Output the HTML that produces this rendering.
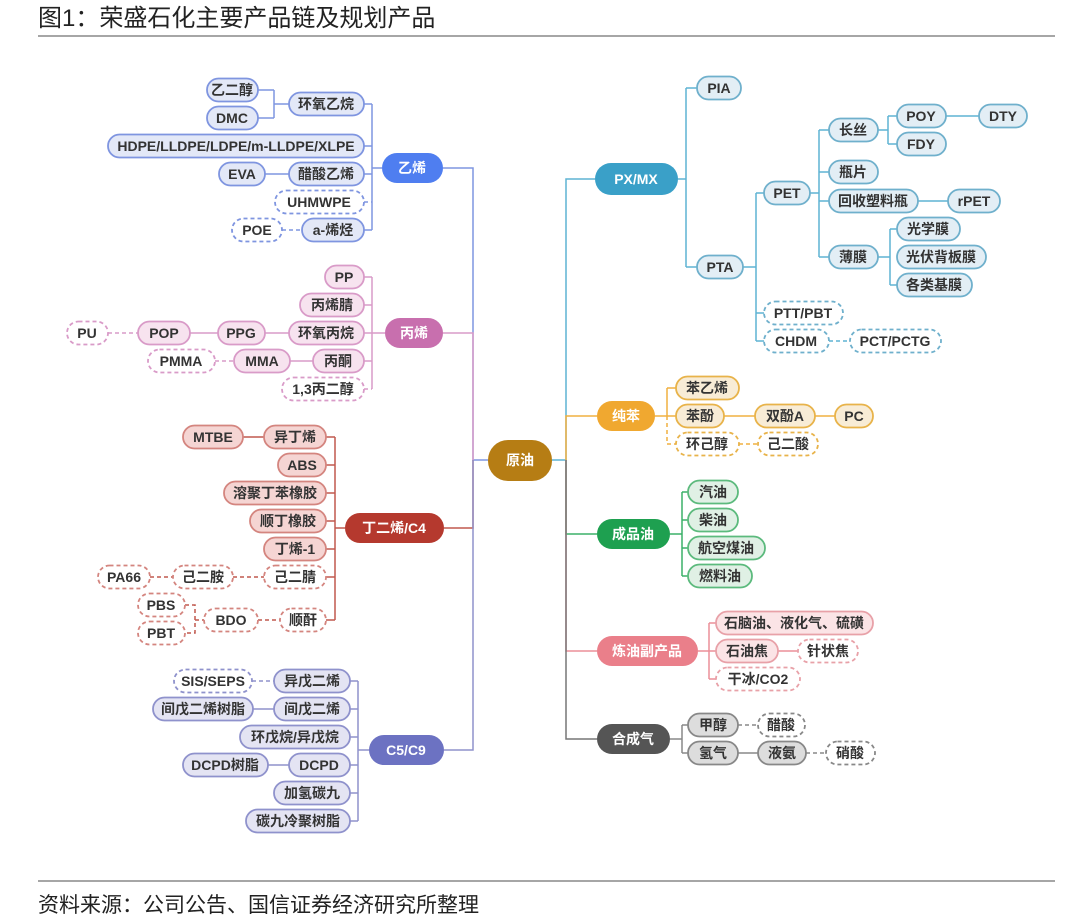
<!DOCTYPE html>
<html><head><meta charset="utf-8"><style>
html,body{margin:0;padding:0;background:#fff;}
svg{display:block;font-family:"Liberation Sans","Noto Sans CJK SC",sans-serif;}
.t{font-size:14px;font-weight:bold;fill:#333;text-anchor:middle;}
.h{font-size:14px;font-weight:bold;fill:#fff;text-anchor:middle;}
path,line{fill:none;stroke-width:1.5;}
</style></head><body>
<svg width="1080" height="920" viewBox="0 0 1080 920" xmlns="http://www.w3.org/2000/svg">
<text x="38" y="26" style="font-size:24px;fill:#222">图1：荣盛石化主要产品链及规划产品</text>
<line x1="38" y1="36" x2="1055" y2="36" stroke="#888" stroke-width="1.5"/>
<line x1="38" y1="881" x2="1055" y2="881" stroke="#888" stroke-width="1.5"/>
<text x="38" y="912" style="font-size:21px;fill:#222">资料来源：公司公告、国信证券经济研究所整理</text>

<path d="M488 460H473V168H443" stroke="#7f95e0"/>
<path d="M473 460V333H443" stroke="#d99bc8"/>
<path d="M473 460V528H444" stroke="#c0594f"/>
<path d="M473 460V750H444" stroke="#8f92cc"/>
<path d="M552 460H566V179H595" stroke="#5fb3d3"/>
<path d="M566 460V416H597" stroke="#f0b040"/>
<path d="M566 460V534H597" stroke="#3bb068"/>
<path d="M566 460V651H597" stroke="#ec8f99"/>
<path d="M566 460V739H597" stroke="#777"/>

<g stroke="#7f95e0">
<path d="M382 168H372M372 104V230M364 104H372M364 146H372M364 174H372M364 230H372"/>
<path d="M258 90H274M258 118H274M274 90V118M274 104H289M265 174H289"/>
</g>
<g stroke="#7f95e0" stroke-dasharray="4,3"><path d="M364 202H372M282 230H302"/></g>
<g stroke="#d99bc8">
<path d="M385 333H372M372 277V389M364 277H372M364 305H372M364 333H372M364 361H372M265 333H289M190 333H218M290 361H313"/>
</g>
<g stroke="#d99bc8" stroke-dasharray="4,3"><path d="M108 333H138M215 361H234M364 389H372"/></g>
<g stroke="#c0594f">
<path d="M345 528H335M335 437V620M326 437H335M326 465H335M326 493H335M326 521H335M326 549H335M326 577H335M326 620H335M243 437H264"/>
</g>
<g stroke="#c0594f" stroke-dasharray="4,3"><path d="M150 577H173M233 577H264M258 620H280M185 605H195V633H185M195 620H204"/></g>
<g stroke="#8f92cc">
<path d="M369 750H358M358 681V821M350 681H358M350 709H358M350 737H358M350 765H358M350 793H358M350 821H358M253 709H274M268 765H289"/>
</g>
<g stroke="#8f92cc" stroke-dasharray="4,3"><path d="M252 681H274"/></g>
<g stroke="#5fb3d3">
<path d="M678 179H686M686 88V267M686 88H697M686 267H697M743 267H756M756 193V341M756 193H764M756 313H764M756 341H764M810 193H819M819 130V257M819 130H829M819 172H829M819 201H829M819 257H829M878 130H888M888 116V144M888 116H897M888 144H897M946 116H979M918 201H948M878 257H890M890 229V285M890 229H897M890 285H897"/>
</g>
<g stroke="#5fb3d3" stroke-dasharray="4,3"><path d="M829 341H850"/></g>
<g stroke="#f0b040">
<path d="M655 416H667M667 388V416M667 388H676M667 416H676M724 416H755M815 416H835"/>
</g>
<g stroke="#f0b040" stroke-dasharray="4,3"><path d="M667 416V444H676M739 444H758"/></g>
<g stroke="#3bb068"><path d="M670 534H682M682 492V576M682 492H688M682 520H688M682 548H688M682 576H688"/></g>
<g stroke="#ec8f99"><path d="M698 651H709M709 623V679M709 623H716M709 651H716M709 679H716M778 651H798"/></g>
<g stroke="#888"><path d="M670 739H682M682 725V753M682 725H688M682 753H688M738 753H758"/></g>
<g stroke="#888" stroke-dasharray="4,3"><path d="M738 725H758M806 753H826"/></g>

<g fill="#e3e8f7" stroke="#7f95e0" stroke-width="1.8">
<rect x="207" y="78.5" width="51" height="23" rx="11.5"/>
<rect x="207" y="106.5" width="51" height="23" rx="11.5"/>
<rect x="289" y="92.5" width="75" height="23" rx="11.5"/>
<rect x="108" y="134.5" width="256" height="23" rx="11.5"/>
<rect x="219" y="162.5" width="46" height="23" rx="11.5"/>
<rect x="289" y="162.5" width="75" height="23" rx="11.5"/>
<rect x="302" y="218.5" width="62" height="23" rx="11.5"/>
</g>
<g fill="#fff" stroke="#7f95e0" stroke-width="1.8" stroke-dasharray="4,3">
<rect x="275" y="190.5" width="89" height="23" rx="11.5"/>
<rect x="232" y="218.5" width="50" height="23" rx="11.5"/>
</g>
<g fill="#f7e3ef" stroke="#d99bc8" stroke-width="1.8">
<rect x="325" y="265.5" width="39" height="23" rx="11.5"/>
<rect x="300" y="293.5" width="64" height="23" rx="11.5"/>
<rect x="289" y="321.5" width="75" height="23" rx="11.5"/>
<rect x="218" y="321.5" width="47" height="23" rx="11.5"/>
<rect x="138" y="321.5" width="52" height="23" rx="11.5"/>
<rect x="313" y="349.5" width="51" height="23" rx="11.5"/>
<rect x="234" y="349.5" width="56" height="23" rx="11.5"/>
</g>
<g fill="#fff" stroke="#d99bc8" stroke-width="1.8" stroke-dasharray="4,3">
<rect x="67" y="321.5" width="41" height="23" rx="11.5"/>
<rect x="148" y="349.5" width="67" height="23" rx="11.5"/>
<rect x="282" y="377.5" width="82" height="23" rx="11.5"/>
</g>
<g fill="#f5d5d3" stroke="#d4857f" stroke-width="1.8">
<rect x="183" y="425.5" width="60" height="23" rx="11.5"/>
<rect x="264" y="425.5" width="62" height="23" rx="11.5"/>
<rect x="278" y="453.5" width="48" height="23" rx="11.5"/>
<rect x="224" y="481.5" width="102" height="23" rx="11.5"/>
<rect x="250" y="509.5" width="76" height="23" rx="11.5"/>
<rect x="264" y="537.5" width="62" height="23" rx="11.5"/>
</g>
<g fill="#fff" stroke="#d4857f" stroke-width="1.8" stroke-dasharray="4,3">
<rect x="264" y="565.5" width="62" height="23" rx="11.5"/>
<rect x="173" y="565.5" width="60" height="23" rx="11.5"/>
<rect x="98" y="565.5" width="52" height="23" rx="11.5"/>
<rect x="280" y="608.5" width="46" height="23" rx="11.5"/>
<rect x="204" y="608.5" width="54" height="23" rx="11.5"/>
<rect x="138" y="593.5" width="47" height="23" rx="11.5"/>
<rect x="138" y="621.5" width="47" height="23" rx="11.5"/>
</g>
<g fill="#e4e4f3" stroke="#8f92cc" stroke-width="1.8">
<rect x="274" y="669.5" width="76" height="23" rx="11.5"/>
<rect x="274" y="697.5" width="76" height="23" rx="11.5"/>
<rect x="153" y="697.5" width="100" height="23" rx="11.5"/>
<rect x="240" y="725.5" width="110" height="23" rx="11.5"/>
<rect x="289" y="753.5" width="61" height="23" rx="11.5"/>
<rect x="183" y="753.5" width="85" height="23" rx="11.5"/>
<rect x="274" y="781.5" width="76" height="23" rx="11.5"/>
<rect x="246" y="809.5" width="104" height="23" rx="11.5"/>
</g>
<g fill="#fff" stroke="#8f92cc" stroke-width="1.8" stroke-dasharray="4,3">
<rect x="174" y="669.5" width="78" height="23" rx="11.5"/>
</g>
<g fill="#e3eef5" stroke="#6fb0cc" stroke-width="1.8">
<rect x="697" y="76.5" width="44" height="23" rx="11.5"/>
<rect x="697" y="255.5" width="46" height="23" rx="11.5"/>
<rect x="764" y="181.5" width="46" height="23" rx="11.5"/>
<rect x="829" y="118.5" width="49" height="23" rx="11.5"/>
<rect x="897" y="104.5" width="49" height="23" rx="11.5"/>
<rect x="979" y="104.5" width="48" height="23" rx="11.5"/>
<rect x="897" y="132.5" width="49" height="23" rx="11.5"/>
<rect x="829" y="160.5" width="49" height="23" rx="11.5"/>
<rect x="829" y="189.5" width="89" height="23" rx="11.5"/>
<rect x="948" y="189.5" width="52" height="23" rx="11.5"/>
<rect x="829" y="245.5" width="49" height="23" rx="11.5"/>
<rect x="897" y="217.5" width="63" height="23" rx="11.5"/>
<rect x="897" y="245.5" width="89" height="23" rx="11.5"/>
<rect x="897" y="273.5" width="75" height="23" rx="11.5"/>
</g>
<g fill="#fff" stroke="#6fb0cc" stroke-width="1.8" stroke-dasharray="4,3">
<rect x="764" y="301.5" width="79" height="23" rx="11.5"/>
<rect x="764" y="329.5" width="65" height="23" rx="11.5"/>
<rect x="850" y="329.5" width="91" height="23" rx="11.5"/>
</g>
<g fill="#f8ecd6" stroke="#e8b34a" stroke-width="1.8">
<rect x="676" y="376.5" width="63" height="23" rx="11.5"/>
<rect x="676" y="404.5" width="48" height="23" rx="11.5"/>
<rect x="755" y="404.5" width="60" height="23" rx="11.5"/>
<rect x="835" y="404.5" width="38" height="23" rx="11.5"/>
</g>
<g fill="#fff" stroke="#e8b34a" stroke-width="1.8" stroke-dasharray="4,3">
<rect x="676" y="432.5" width="63" height="23" rx="11.5"/>
<rect x="758" y="432.5" width="60" height="23" rx="11.5"/>
</g>
<g fill="#e0f0e5" stroke="#5cba7d" stroke-width="1.8">
<rect x="688" y="480.5" width="50" height="23" rx="11.5"/>
<rect x="688" y="508.5" width="50" height="23" rx="11.5"/>
<rect x="688" y="536.5" width="77" height="23" rx="11.5"/>
<rect x="688" y="564.5" width="64" height="23" rx="11.5"/>
</g>
<g fill="#fbe4e6" stroke="#e8a1a8" stroke-width="1.8">
<rect x="716" y="611.5" width="157" height="23" rx="11.5"/>
<rect x="716" y="639.5" width="62" height="23" rx="11.5"/>
</g>
<g fill="#fff" stroke="#e8a1a8" stroke-width="1.8" stroke-dasharray="4,3">
<rect x="798" y="639.5" width="60" height="23" rx="11.5"/>
<rect x="716" y="667.5" width="84" height="23" rx="11.5"/>
</g>
<g fill="#ddd" stroke="#888" stroke-width="1.8">
<rect x="688" y="713.5" width="50" height="23" rx="11.5"/>
<rect x="688" y="741.5" width="50" height="23" rx="11.5"/>
<rect x="758" y="741.5" width="48" height="23" rx="11.5"/>
</g>
<g fill="#fff" stroke="#888" stroke-width="1.8" stroke-dasharray="4,3">
<rect x="758" y="713.5" width="47" height="23" rx="11.5"/>
<rect x="826" y="741.5" width="49" height="23" rx="11.5"/>
</g>

<rect x="382" y="153" width="61" height="30" rx="15" fill="#4f7ef0"/>
<rect x="385" y="318" width="58" height="30" rx="15" fill="#c86fae"/>
<rect x="345" y="513" width="99" height="30" rx="15" fill="#b5392e"/>
<rect x="369" y="735" width="75" height="30" rx="15" fill="#6c72c2"/>
<rect x="488" y="440" width="64" height="41" rx="20" fill="#b67d14"/>
<rect x="595" y="163" width="83" height="32" rx="16" fill="#3aa0c8"/>
<rect x="597" y="401" width="58" height="30" rx="15" fill="#f0a830"/>
<rect x="597" y="519" width="73" height="30" rx="15" fill="#1ea050"/>
<rect x="597" y="636" width="101" height="30" rx="15" fill="#ea7f8a"/>
<rect x="597" y="724" width="73" height="30" rx="15" fill="#555"/>
<text class="h" x="412" y="173">乙烯</text>
<text class="h" x="414" y="338">丙烯</text>
<text class="h" x="394" y="533">丁二烯/C4</text>
<text class="h" x="406" y="755">C5/C9</text>
<text class="h" x="520" y="465">原油</text>
<text class="h" x="636" y="184">PX/MX</text>
<text class="h" x="626" y="421">纯苯</text>
<text class="h" x="633" y="539">成品油</text>
<text class="h" x="647" y="656">炼油副产品</text>
<text class="h" x="633" y="744">合成气</text>

<g>
<text class="t" x="232" y="95">乙二醇</text>
<text class="t" x="232" y="123">DMC</text>
<text class="t" x="326" y="109">环氧乙烷</text>
<text class="t" x="236" y="151">HDPE/LLDPE/LDPE/m-LLDPE/XLPE</text>
<text class="t" x="242" y="179">EVA</text>
<text class="t" x="326" y="179">醋酸乙烯</text>
<text class="t" x="319" y="207">UHMWPE</text>
<text class="t" x="257" y="235">POE</text>
<text class="t" x="333" y="235">a-烯烃</text>
<text class="t" x="344" y="282">PP</text>
<text class="t" x="332" y="310">丙烯腈</text>
<text class="t" x="326" y="338">环氧丙烷</text>
<text class="t" x="241" y="338">PPG</text>
<text class="t" x="164" y="338">POP</text>
<text class="t" x="87" y="338">PU</text>
<text class="t" x="338" y="366">丙酮</text>
<text class="t" x="262" y="366">MMA</text>
<text class="t" x="181" y="366">PMMA</text>
<text class="t" x="323" y="394">1,3丙二醇</text>
<text class="t" x="213" y="442">MTBE</text>
<text class="t" x="295" y="442">异丁烯</text>
<text class="t" x="302" y="470">ABS</text>
<text class="t" x="275" y="498">溶聚丁苯橡胶</text>
<text class="t" x="288" y="526">顺丁橡胶</text>
<text class="t" x="295" y="554">丁烯-1</text>
<text class="t" x="295" y="582">己二腈</text>
<text class="t" x="203" y="582">己二胺</text>
<text class="t" x="124" y="582">PA66</text>
<text class="t" x="303" y="625">顺酐</text>
<text class="t" x="231" y="625">BDO</text>
<text class="t" x="161" y="610">PBS</text>
<text class="t" x="161" y="638">PBT</text>
<text class="t" x="312" y="686">异戊二烯</text>
<text class="t" x="213" y="686">SIS/SEPS</text>
<text class="t" x="312" y="714">间戊二烯</text>
<text class="t" x="203" y="714">间戊二烯树脂</text>
<text class="t" x="295" y="742">环戊烷/异戊烷</text>
<text class="t" x="319" y="770">DCPD</text>
<text class="t" x="225" y="770">DCPD树脂</text>
<text class="t" x="312" y="798">加氢碳九</text>
<text class="t" x="298" y="826">碳九冷聚树脂</text>
<text class="t" x="719" y="93">PIA</text>
<text class="t" x="720" y="272">PTA</text>
<text class="t" x="787" y="198">PET</text>
<text class="t" x="853" y="135">长丝</text>
<text class="t" x="921" y="121">POY</text>
<text class="t" x="1003" y="121">DTY</text>
<text class="t" x="921" y="149">FDY</text>
<text class="t" x="853" y="177">瓶片</text>
<text class="t" x="873" y="206">回收塑料瓶</text>
<text class="t" x="974" y="206">rPET</text>
<text class="t" x="853" y="262">薄膜</text>
<text class="t" x="928" y="234">光学膜</text>
<text class="t" x="941" y="262">光伏背板膜</text>
<text class="t" x="934" y="290">各类基膜</text>
<text class="t" x="803" y="318">PTT/PBT</text>
<text class="t" x="796" y="346">CHDM</text>
<text class="t" x="895" y="346">PCT/PCTG</text>
<text class="t" x="707" y="393">苯乙烯</text>
<text class="t" x="700" y="421">苯酚</text>
<text class="t" x="785" y="421">双酚A</text>
<text class="t" x="854" y="421">PC</text>
<text class="t" x="707" y="449">环己醇</text>
<text class="t" x="788" y="449">己二酸</text>
<text class="t" x="713" y="497">汽油</text>
<text class="t" x="713" y="525">柴油</text>
<text class="t" x="726" y="553">航空煤油</text>
<text class="t" x="720" y="581">燃料油</text>
<text class="t" x="794" y="628">石脑油、液化气、硫磺</text>
<text class="t" x="747" y="656">石油焦</text>
<text class="t" x="828" y="656">针状焦</text>
<text class="t" x="758" y="684">干冰/CO2</text>
<text class="t" x="713" y="730">甲醇</text>
<text class="t" x="781" y="730">醋酸</text>
<text class="t" x="713" y="758">氢气</text>
<text class="t" x="782" y="758">液氨</text>
<text class="t" x="850" y="758">硝酸</text>
</g>
</svg>
</body></html>
